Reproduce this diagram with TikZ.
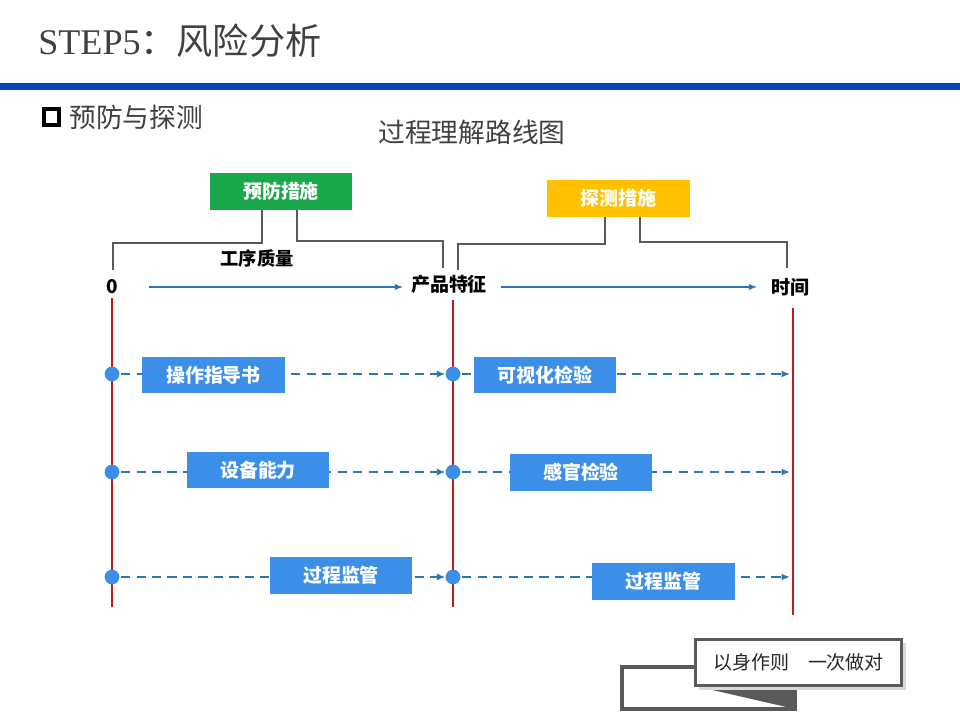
\documentclass[tikz,border=0pt]{standalone}
\usepackage{fontspec}
\setmainfont{Liberation Serif}
\newfontfamily\cjk{Noto Sans CJK SC}
\usetikzlibrary{arrows.meta}
\definecolor{hdrblue}{HTML}{0A47B8}
\definecolor{axisblue}{HTML}{2E75B6}
\definecolor{boxblue}{HTML}{3C8FE8}
\definecolor{prevgreen}{HTML}{1BA84A}
\definecolor{detyellow}{HTML}{FFC000}
\definecolor{timered}{HTML}{B81E1E}
\definecolor{bracketgray}{HTML}{5A5A5A}
\tikzset{
  stepbox/.style={fill=boxblue, text=white, inner sep=0pt,
    minimum width=3.55cm, minimum height=0.9cm,
    font=\cjk\bfseries\fontsize{13.5}{13.5}\selectfont},
  headbox/.style={stepbox, fill=#1, minimum height=0.93cm},
  axislabel/.style={font=\cjk\bfseries\fontsize{13.5}{13.5}\selectfont, inner sep=1pt},
  dot/.style={circle, fill=boxblue, minimum size=0.37cm, inner sep=0pt},
  dasharrow/.style={axisblue, line width=1.4pt, dash pattern=on 6.5pt off 4.5pt,
    -{Latex[length=6pt,width=5pt]}, shorten <=1pt},
  axisarrow/.style={axisblue, line width=1.1pt, -{Latex[length=6pt,width=4.5pt]}},
  bracket/.style={bracketgray, line width=1.1pt},
  timeline/.style={timered, line width=1.5pt},
}
\begin{document}
\begin{tikzpicture}[x=0.025cm, y=-0.025cm]
  \useasboundingbox (0,0) rectangle (960,720);
  % header
  \node[anchor=west, inner sep=0pt, text=black!75, font=\fontsize{25.7}{25.7}\selectfont] (title) at (38,41) {STEP5{\cjk ：风险分析}};
  \draw[hdrblue, line width=5pt] (0,86.5) -- (960,86.5);
  \draw[line width=2.2pt] (44,109) rectangle (59,125);
  \node[anchor=west, inner sep=0pt, text=black!75, font=\cjk\fontsize{19}{19}\selectfont] (subtitle) at (69,117) {预防与探测};
  \node[text=black!75, font=\cjk\fontsize{19}{19}\selectfont] (maptitle) at (472,132) {过程理解路线图};

  % measures
  \node[headbox=prevgreen] (prev) at (281,191.5) {预防措施};
  \node[headbox=detyellow] (det) at (618.5,198.5) {探测措施};

  % time axis
  \node[axislabel] (zero) at (112,287) {0};
  \node[axislabel] (prod) at (449,284) {产品特征};
  \node[axislabel] (time) at (790,287) {时间};
  \node[axislabel, font=\cjk\bfseries\fontsize{13}{13}\selectfont] (quality) at (257,258) {工序质量};
  \draw[axisarrow] ([xshift=0.75cm]zero.east) -- ([xshift=-0.15cm]zero.east -| prod.west);
  \draw[axisarrow] ([xshift=0.3cm]prod.east |- time.west) -- ([xshift=-0.3cm]time.west);

  % brackets
  \draw[bracket] ([xshift=-0.475cm]prev.south) |- (113,243) -- (113,270);
  \draw[bracket] ([xshift=0.4cm]prev.south) |- (443,241) -- (443,268);
  \draw[bracket] ([xshift=-0.34cm]det.south) |- (458,244) -- (458,270);
  \draw[bracket] ([xshift=0.54cm]det.south) |- (787,242) -- (787,268);

  % time lines
  \draw[timeline] (112,298) -- (112,607);
  \draw[timeline] (453,300) -- (453,607);
  \draw[timeline] (793,308) -- (793,615);

  % rows
  \foreach \y [count=\i] in {374,472,577} {
    \node[dot] (a\i) at (112,\y) {};
    \node[dot] (b\i) at (453,\y) {};
    \coordinate (e\i) at (790,\y);
    \draw[dasharrow] (a\i) -- (b\i);
    \draw[dasharrow] (b\i) -- (e\i);
  }
  \node[stepbox] (guide) at (213.5,375) {操作指导书};
  \node[stepbox] (equip) at (258,470) {设备能力};
  \node[stepbox] (monA) at (341,575.5) {过程监管};
  \node[stepbox] (visual) at (545,375) {可视化检验};
  \node[stepbox] (sense) at (581,472.5) {感官检验};
  \node[stepbox] (monB) at (663.5,581.5) {过程监管};

  % motto ribbon
  \draw[bracketgray, line width=2.2pt] (622,667) rectangle (795,709);
  \fill[bracketgray] (695,686) -- (795,686) -- (795,709) -- cycle;
  \fill[black!15] (699,643) rectangle (906,690);
  \node[draw=bracketgray, line width=2.2pt, fill=white, minimum width=5.15cm, minimum height=1.15cm,
    font=\cjk\fontsize{13.5}{13.5}\selectfont, text=black!85] (motto) at (798.5,662.5) {以身作则\quad 一次做对};
\end{tikzpicture}
\end{document}
